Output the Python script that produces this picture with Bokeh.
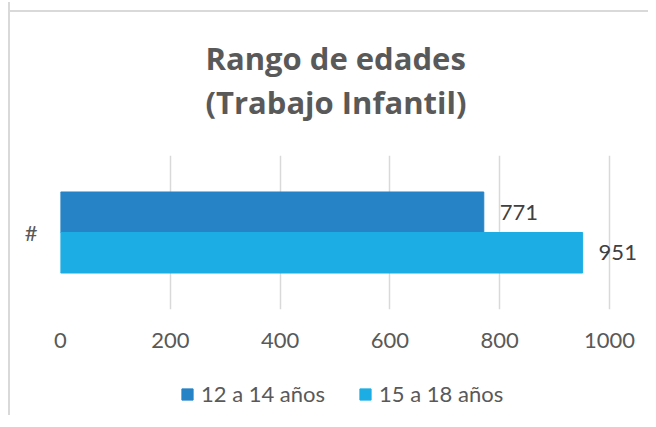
from bokeh.plotting import figure
from bokeh.layouts import column
from bokeh.models import (ColumnDataSource, FactorRange, Range1d, FixedTicker,
                          LabelSet, Legend, LegendItem, Title)
from bokeh.core.properties import value
from bokeh.transform import dodge
from bokeh.embed import file_html
from bokeh.resources import INLINE

categories = ["#"]
series_names = ["12 a 14 años", "15 a 18 años"]
values_12_14 = [771]
values_15_18 = [951]
x_ticks = [0, 200, 400, 600, 800, 1000]
colors = ["#2683C6", "#1CADE4"]
title_text = "Rango de edades\n(Trabajo Infantil)"

src = ColumnDataSource(dict(
    cat=categories,
    v1=values_12_14,
    v2=values_15_18,
    l1=[str(v) for v in values_12_14],
    l2=[str(v) for v in values_15_18],
))

p = figure(width=640, height=357,
           y_range=FactorRange(factors=categories),
           x_range=Range1d(0, 1071),
           output_backend="svg", toolbar_location=None,
           title_location=None,
           min_border_left=52, min_border_right=0,
           min_border_top=153, min_border_bottom=50)
p.outline_line_color = None
p.border_fill_color = None

off = 0.1315
h = 0.263
r1 = p.hbar(y=dodge("cat", off, range=p.y_range), right="v1", left=0, height=h,
            color=colors[0], source=src)
r2 = p.hbar(y=dodge("cat", -off, range=p.y_range), right="v2", left=0, height=h,
            color=colors[1], source=src)

lab_font = "Lato"
for fld, lab, o in (("v1", "l1", off), ("v2", "l2", -off)):
    ls = LabelSet(x=fld, y=dodge("cat", o, range=p.y_range), text=lab, source=src,
                  x_offset=16, text_baseline="middle", text_align="left",
                  text_font=value(lab_font), text_font_size=value("22px"),
                  text_color="#404040")
    p.add_layout(ls)

# axes
p.xaxis.ticker = FixedTicker(ticks=x_ticks)
p.xgrid.ticker = FixedTicker(ticks=x_ticks)
for ax in (p.xaxis[0], p.yaxis[0]):
    ax.axis_line_color = None
    ax.major_tick_line_color = None
    ax.minor_tick_line_color = None
    ax.major_label_text_font = lab_font
    ax.major_label_text_font_size = "22px"
    ax.major_label_text_color = "#595959"
p.xaxis.major_label_standoff = 17
p.yaxis.major_label_standoff = 17
p.xgrid.grid_line_color = "#d9d9d9"
p.xgrid.grid_line_width = 1.5
p.ygrid.grid_line_color = None

t = Title(text=title_text, align="left", text_font="Open Sans",
          text_font_style="bold", text_font_size="31px", text_color="#595959",
          text_line_height=1.05, standoff=64, offset=145)
p.add_layout(t, "above")

# legend strip below the chart
lp = figure(width=640, height=56, x_range=Range1d(0, 1),
            y_range=FactorRange(factors=categories),
            output_backend="svg", toolbar_location=None, title_location=None,
            x_axis_location=None, y_axis_location=None, min_border=0)
lp.outline_line_color = None
lp.border_fill_color = None
lp.background_fill_color = None
lp.xgrid.visible = False
lp.ygrid.visible = False
lr1 = lp.hbar(y="cat", right="v1", left=0, height=h, color=colors[0], source=src,
              visible=False)
lr2 = lp.hbar(y="cat", right="v2", left=0, height=h, color=colors[1], source=src,
              visible=False)

legend = Legend(items=[LegendItem(label=series_names[0], renderers=[lr1]),
                       LegendItem(label=series_names[1], renderers=[lr2])],
                orientation="horizontal", location=(120, 8),
                glyph_width=14, glyph_height=14, label_standoff=7, spacing=33,
                label_text_font=lab_font, label_text_font_size="22px",
                label_text_color="#595959", border_line_color=None,
                background_fill_alpha=0, padding=0, margin=0,
                inactive_fill_alpha=0)
lp.add_layout(legend)

layout = column(p, lp, spacing=0)
layout.styles = {
    "margin-left": "8px",
    "margin-top": "2px",
    "background-image": "linear-gradient(#d9d9d9, #d9d9d9), linear-gradient(#d9d9d9, #d9d9d9)",
    "background-size": "100% 2px, 2px 100%",
    "background-position": "0 8px, 0 0",
    "background-repeat": "no-repeat",
}

open("out.html", "w").write(file_html(layout, INLINE))
